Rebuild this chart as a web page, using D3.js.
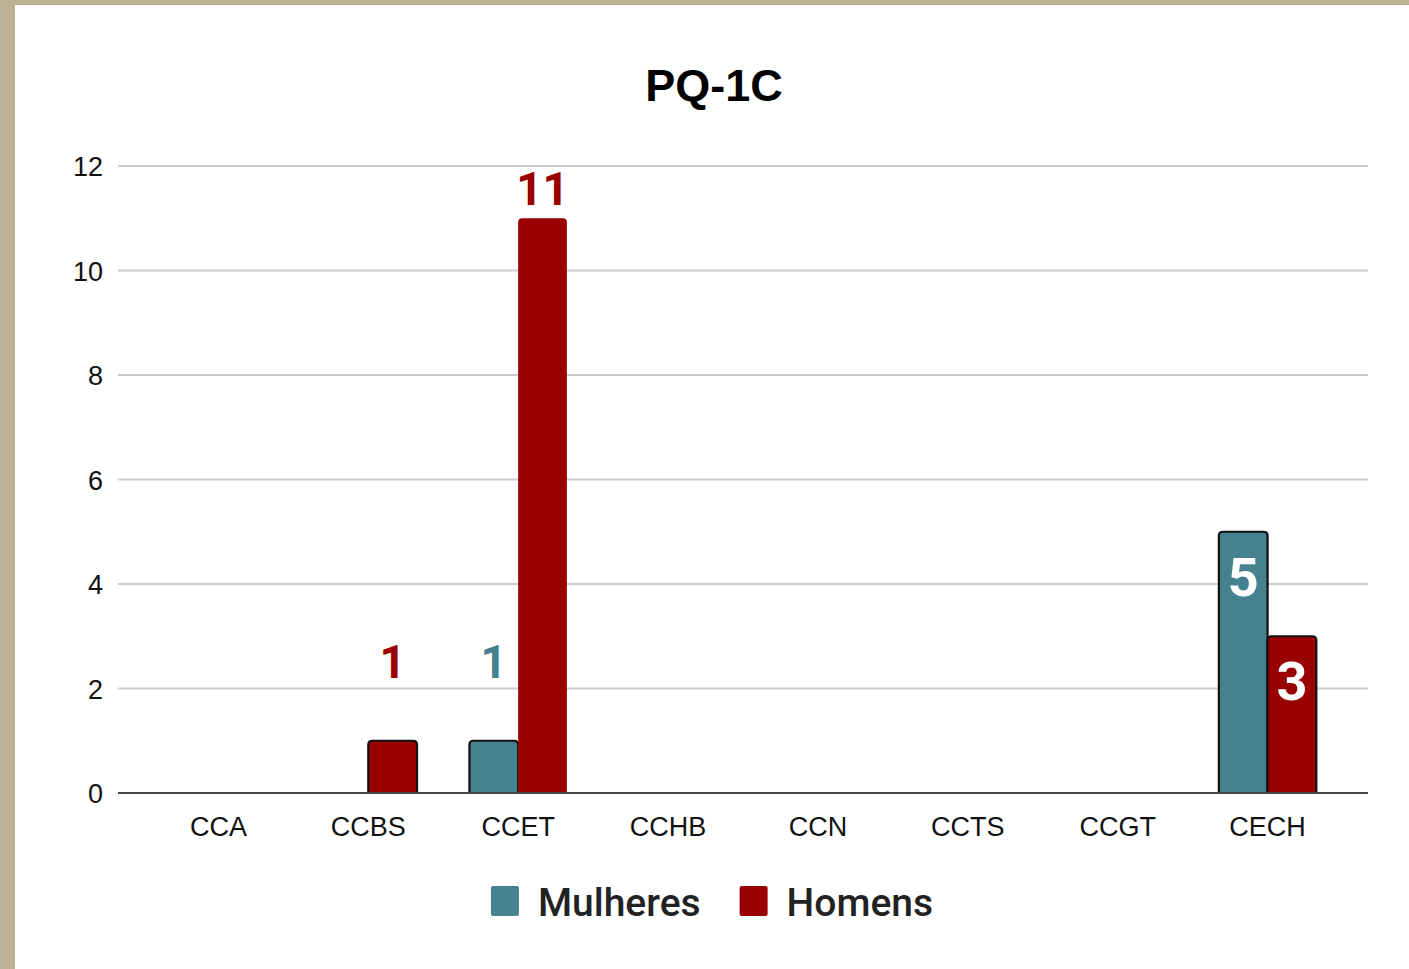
<!DOCTYPE html>
<html>
<head>
  <title>PQ-1C</title>
  <script src="https://cdn.jsdelivr.net/npm/d3@7"></script>
  <style>
    body { margin: 0; background: #bdb093; }
    .tick-label { font-family: "Liberation Sans", Arial, sans-serif; font-size: 27px; fill: #111; }
    .grid { stroke: #cccccc; stroke-width: 2; }
    .value { font-family: Roboto, sans-serif; font-weight: 700; }
    .legend-text { font-family: Roboto, sans-serif; font-weight: 500; font-size: 39px; fill: #222; }
  </style>
</head>
<body>
  <div id="chart"></div>
  <script>
    const categories = ["CCA", "CCBS", "CCET", "CCHB", "CCN", "CCTS", "CCGT", "CECH"];
    const seriesNames = ["Mulheres", "Homens"];
    const mulheres = [0, 0, 1, 0, 0, 0, 0, 5];
    const homens = [0, 1, 11, 0, 0, 0, 0, 3];
    const yTicks = [0, 2, 4, 6, 8, 10, 12];
    const colors = ["#45818e", "#990000"];

    const W = 1409, H = 969;
    const svg = d3.select("#chart").append("svg")
      .attr("width", W).attr("height", H);

    // beige frame, white card
    svg.append("rect").attr("width", W).attr("height", H).attr("fill", "#bdb093");
    svg.append("rect").attr("x", 15).attr("y", 5).attr("width", W - 15).attr("height", H - 5).attr("fill", "#fff");

    svg.append("text")
      .attr("x", 714).attr("y", 101)
      .attr("text-anchor", "middle")
      .style("font-family", "'Liberation Sans', Arial, sans-serif")
      .style("font-weight", "bold")
      .style("font-size", "45px")
      .text("PQ-1C");

    const x = d3.scaleBand().domain(categories).range([118, 1368]).paddingOuter(0.17).paddingInner(0);
    const x1 = d3.scaleBand().domain(seriesNames)
      .range([x.bandwidth() * 0.175, x.bandwidth() * 0.825]);
    const y = d3.scaleLinear().domain([0, 12]).range([793, 166]);

    // gridlines
    svg.append("g").selectAll("line").data(yTicks.filter(d => d > 0)).join("line")
      .attr("class", "grid")
      .attr("x1", 118).attr("x2", 1368)
      .attr("y1", d => y(d)).attr("y2", d => y(d));

    // y axis labels
    const yAxis = svg.append("g").attr("transform", "translate(103,0)")
      .call(d3.axisLeft(y).tickValues(yTicks).tickSize(0).tickPadding(0));
    yAxis.select(".domain").remove();
    yAxis.selectAll("text").attr("class", "tick-label").attr("dy", "0.36em");

    // x axis labels
    const xAxis = svg.append("g").attr("transform", "translate(0,793)")
      .call(d3.axisBottom(x).tickSize(0).tickPadding(0));
    xAxis.select(".domain").remove();
    xAxis.selectAll("text").attr("class", "tick-label").attr("dy", "0").attr("y", 43);

    const rows = categories.map((c, i) => ({ cat: c, vals: [mulheres[i], homens[i]] }));
    const bars = rows.flatMap(r => r.vals.map((v, s) => ({ cat: r.cat, s, v }))).filter(d => d.v > 0);
    const vmax = d3.max(bars, d => d.v);

    const r = 4;
    const barPath = d => {
      const x0 = x(d.cat) + x1(seriesNames[d.s]), w = x1.bandwidth();
      const top = y(d.v), bot = y(0);
      return `M${x0},${bot}V${top + r}Q${x0},${top} ${x0 + r},${top}H${x0 + w - r}Q${x0 + w},${top} ${x0 + w},${top + r}V${bot}Z`;
    };

    svg.append("g").selectAll("path").data(bars).join("path")
      .attr("d", barPath)
      .attr("fill", d => colors[d.s])
      .attr("stroke", d => d.v === vmax ? "none" : "#111")
      .attr("stroke-width", 2.2);

    // baseline
    svg.append("line").attr("x1", 118).attr("x2", 1368).attr("y1", y(0)).attr("y2", y(0))
      .attr("stroke", "#444").attr("stroke-width", 2);

    // value labels: mid-height bars inside in white, others above in series colour
    const inside = d => d.v >= 3 && d.v <= 8;
    svg.append("g").selectAll("text").data(bars).join("text")
      .attr("class", "value")
      .attr("text-anchor", "middle")
      .attr("x", d => x(d.cat) + x1(seriesNames[d.s]) + x1.bandwidth() / 2)
      .attr("y", d => inside(d) ? y(d.v) + 64 : Math.min(y(d.v) - 13, y(2.2)))
      .style("font-size", d => inside(d) ? "54px" : "46px")
      .attr("fill", d => inside(d) ? "#fff" : colors[d.s])
      .text(d => d.v);

    // legend
    const legend = svg.append("g");
    let lx = 0;
    seriesNames.forEach((name, i) => {
      const g = legend.append("g").attr("transform", `translate(${lx},0)`);
      g.append("rect").attr("x", 0).attr("y", 886).attr("width", 28).attr("height", 30)
        .attr("rx", 2).attr("fill", colors[i]);
      const t = g.append("text").attr("class", "legend-text").attr("x", 47).attr("y", 916).text(name);
      lx += 47 + t.node().getComputedTextLength() + 39;
    });
    const lw = lx - 39;
    legend.attr("transform", `translate(${712 - lw / 2},0)`);
  </script>
</body>
</html>
